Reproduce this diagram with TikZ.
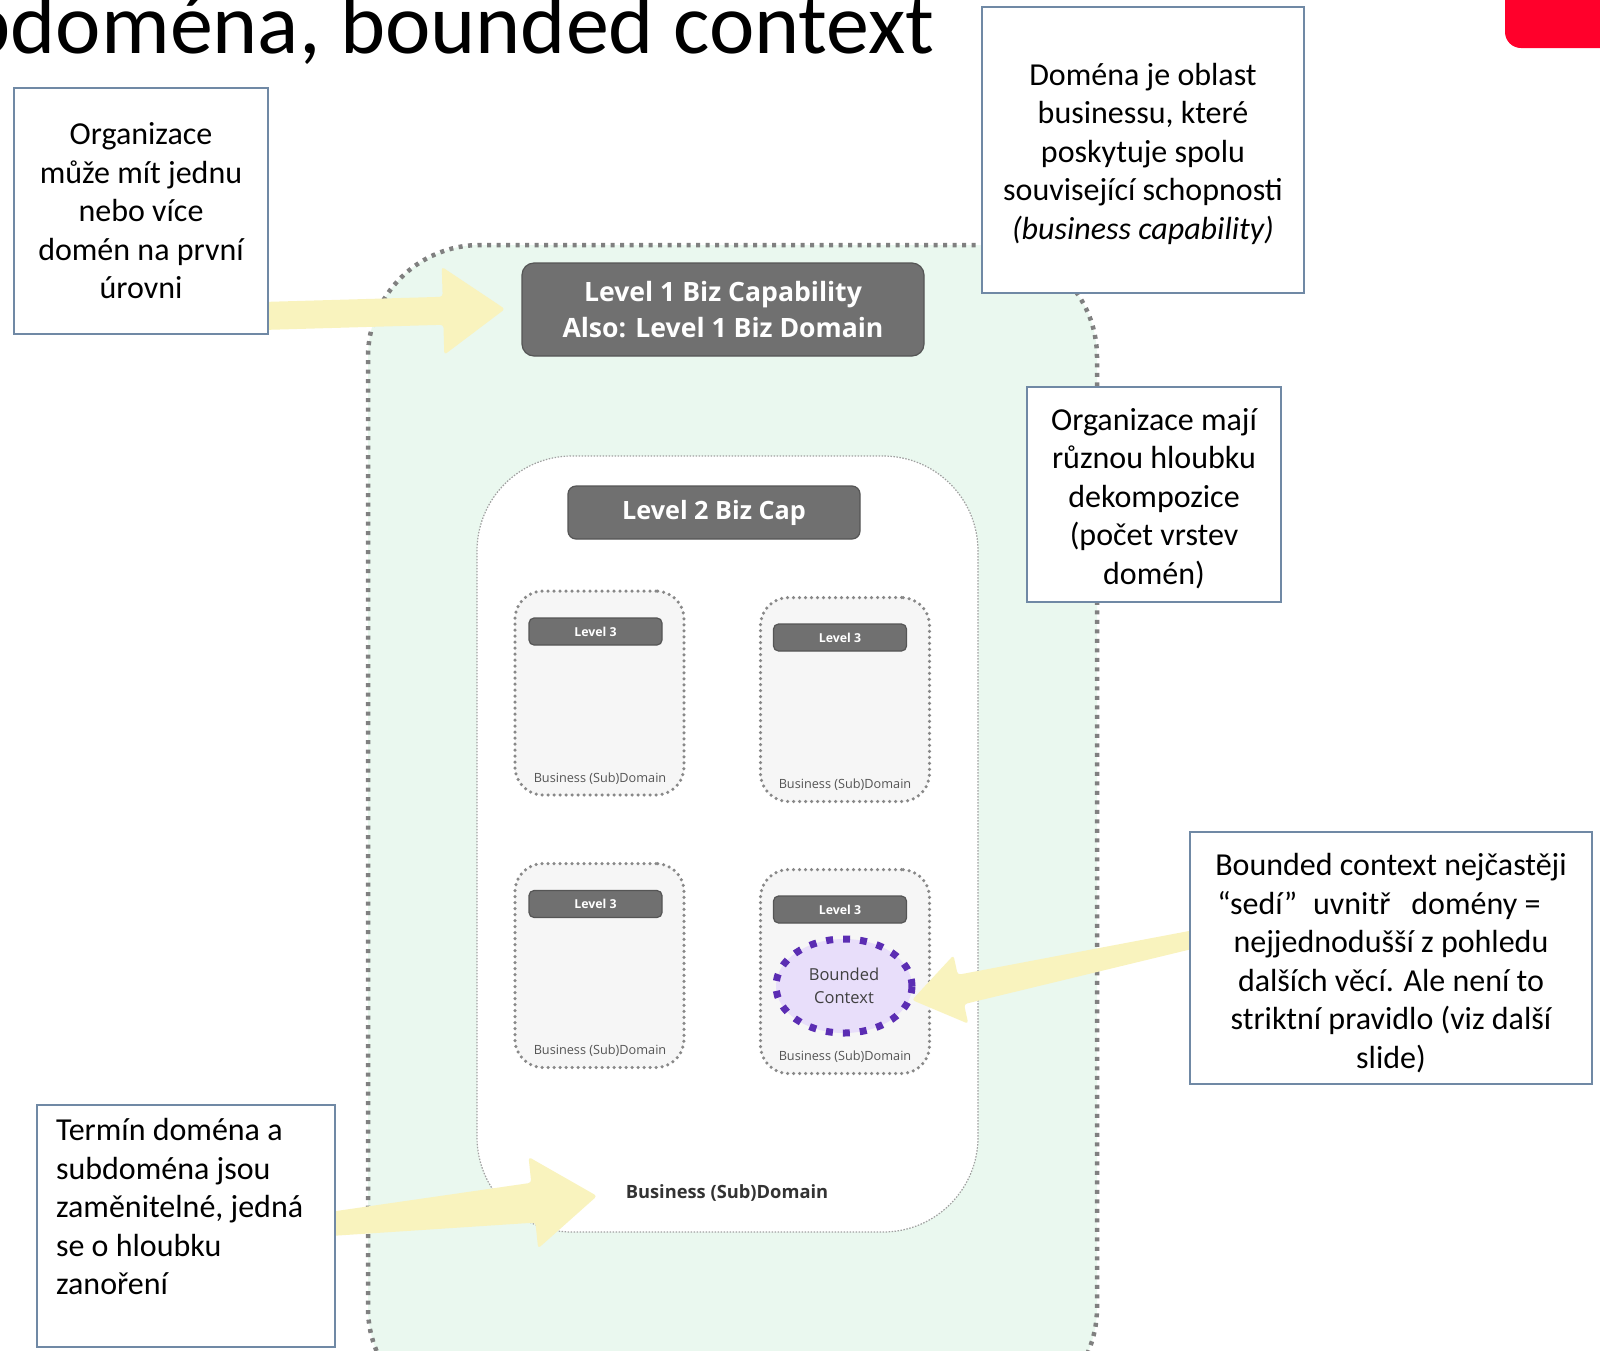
\documentclass[tikz,border=0pt]{standalone}
\usepackage{fontspec}
\setmainfont{Carlito}
\newfontfamily\diafont{Open Sans}
\usetikzlibrary{calc,shapes.geometric}

\definecolor{mint}{HTML}{EAF8EF}
\definecolor{mintdots}{HTML}{808080}
\definecolor{boxline}{HTML}{7089A5}
\definecolor{lvlgray}{HTML}{707070}
\definecolor{lvldark}{HTML}{555555}
\definecolor{subfill}{HTML}{F6F6F6}
\definecolor{subdots}{HTML}{888888}
\definecolor{tabred}{HTML}{FF002B}
\definecolor{bcfill}{HTML}{E8DEFA}
\definecolor{bcline}{HTML}{5B2DB3}
\definecolor{arrowyellow}{HTML}{F9F3BE}
\definecolor{labelgray}{HTML}{555555}

% block arrow: tail, tip, tail half width, shaft half width at head, head half width, head length
\newcommand\blockarrow[6]{%
  \coordinate (hb) at ($(#2)!#6!(#1)$);
  \fill[arrowyellow, rounded corners=3]
    ($(#1)!#3!90:(#2)$) -- ($(hb)!#4!90:(#2)$) -- ($(hb)!#5!90:(#2)$) --
    (#2) --
    ($(hb)!#5!-90:(#2)$) -- ($(hb)!#4!-90:(#2)$) -- ($(#1)!#3!-90:(#2)$) -- cycle;
}
% invisible strut that lowers a callout's text block
\newcommand\topstrut[1]{\rule{0pt}{#1}}

\tikzset{
  callout/.style={draw=boxline, line width=2.5pt, fill=white, align=center,
    inner sep=0pt, font=\fontsize{32}{38.5}\selectfont},
  lvlbox/.style={fill=lvlgray, draw=lvldark, line width=1.2pt, text=white,
    align=center, inner sep=0pt},
  subbox/.style={draw=subdots, fill=subfill, line width=3.5pt, line cap=round,
    dash pattern=on 0pt off 6pt, rounded corners=28, minimum width=169,
    minimum height=204, inner sep=0pt},
  sublabel/.style={text=labelgray, inner sep=0pt,
    font=\diafont\fontsize{12.7}{14}\selectfont},
  lvlthree/.style={lvlbox, rounded corners=5, minimum width=133, minimum height=27,
    font=\diafont\bfseries\fontsize{12.3}{14}\selectfont},
}

\begin{document}
\begin{tikzpicture}[x=1pt,y=-1pt]
\useasboundingbox (0,0) rectangle (1600,1350);
\clip (0,0) rectangle (1600,1350);

% slide title and red corner tab
\node[anchor=base east, inner sep=0pt, font=\fontsize{86}{100}\selectfont]
  (title) at (935,53) {Subdoména, bounded context};
\node[fill=tabred, rounded corners=16, minimum width=135, minimum height=80,
  inner sep=0pt] (tab) at (1572.5,8) {};

% level 1 region
\node[fill=mint, draw=mintdots, line width=4.5pt, dash pattern=on 4pt off 5.5pt,
  rounded corners=112, minimum width=729, minimum height=1175, inner sep=0pt]
  (region) at (732.5,832.5) {};

% level 2 container
\node[fill=white, draw=subdots!80, line width=1.2pt, dash pattern=on 1.5pt off 1.5pt,
  rounded corners=95, minimum width=501, minimum height=776, inner sep=0pt]
  (l2) at (727.5,844) {};

% level 3 subdomains
\node[subbox] (s1) at (599.5,693) {};
\node[subbox] (s2) at (845,699.5) {};
\node[subbox] (s3) at (599.5,965.5) {};
\node[subbox] (s4) at (845,971.5) {};

\node[lvlthree] (h1) at (595.5,631.5) {Level 3};
\node[lvlthree] (h2) at (840,637.5) {Level 3};
\node[lvlthree] (h3) at (595.5,904) {Level 3};
\node[lvlthree] (h4) at (840,909.5) {Level 3};

\node[sublabel] (t1) at (600,779) {Business (Sub)Domain};
\node[sublabel] (t2) at (845,785) {Business (Sub)Domain};
\node[sublabel] (t3) at (600,1051) {Business (Sub)Domain};
\node[sublabel] (t4) at (845,1057) {Business (Sub)Domain};

% bounded context inside the fourth subdomain
\node[ellipse, fill=bcfill, draw=bcline, line width=7pt, dash pattern=on 7pt off 10pt,
  minimum width=136, minimum height=94, inner sep=0pt, align=center,
  text=black!75, font=\diafont\fontsize{16.5}{23}\selectfont]
  (bc) at (844,986) {Bounded\\Context};

% level 1 and level 2 headers
\node[lvlbox, rounded corners=12, minimum width=402, minimum height=93,
  font=\diafont\bfseries\fontsize{26.6}{36}\selectfont]
  (l1head) at (723,309.5) {Level 1 Biz Capability\\Also: Level 1 Biz Domain};
\node[lvlbox, rounded corners=8, minimum width=292, minimum height=53,
  font=\diafont\bfseries\fontsize{25.2}{30}\selectfont]
  (l2head) at (714,512.5) {Level 2 Biz Cap};
\node[text=black!80, inner sep=0pt, font=\diafont\bfseries\fontsize{18.3}{22}\selectfont]
  (l2label) at (727,1193) {Business (Sub)Domain};

% pointer arrows
\coordinate (a1s) at (262,316);
\coordinate (a1e) at (505,309);
\blockarrow{a1s}{a1e}{14pt}{14pt}{44pt}{62pt}
\coordinate (a2s) at (1195,939);
\coordinate (a2e) at (912,1000);
\blockarrow{a2s}{a2e}{9pt}{15pt}{35pt}{50pt}
\coordinate (a3s) at (330,1224);
\coordinate (a3e) at (597,1196);
\blockarrow{a3s}{a3e}{12pt}{20pt}{46pt}{64pt}

% explanatory callouts
\node[callout, minimum width=254, minimum height=246] (c1) at (141,211)
  {Organizace\\může mít jednu\\nebo více\\domén na první\\úrovni};
\node[callout, minimum width=322, minimum height=286] (c2) at (1143,150)
  {\topstrut{30pt}Doména je oblast\\businessu, které\\poskytuje spolu\\související schopnosti\\\textit{(business capability)}};
\node[callout, minimum width=254, minimum height=215] (c3) at (1154,494.5)
  {\topstrut{30pt}Organizace mají\\různou hloubku\\dekompozice\\(počet vrstev\\domén)};
\node[callout, minimum width=402, minimum height=252] (c4) at (1391,958)
  {\topstrut{32pt}Bounded context nejčastěji\\“sedí”\hspace{16pt}uvnitř\hspace{21pt}domény =\hspace{24pt}\mbox{}\\nejjednodušší z pohledu\\dalších věcí. Ale není to\\striktní pravidlo (viz další\\slide)};
\node[callout, align=flush left, text width=260, minimum width=298, minimum height=242] (c5) at (186,1226)
  {Termín doména a\\subdoména jsou\\zaměnitelné, jedná\\se o hloubku\\zanoření\\\mbox{}};
\end{tikzpicture}
\end{document}
